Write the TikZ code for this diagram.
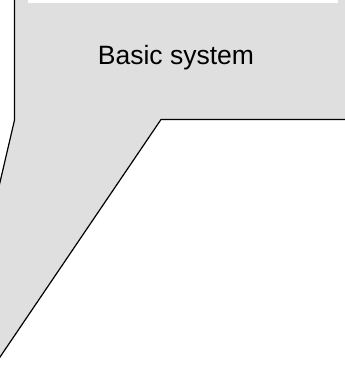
\documentclass[tikz,border=0pt]{standalone}
\usepackage{fontspec}
\setmainfont{Liberation Sans}
\usepackage{xcolor}
\definecolor{cArea}{HTML}{DFDFDF}
\definecolor{cEdge}{HTML}{000000}
\tikzset{
  area/.style={fill=cArea, draw=none},
  edge/.style={draw=cEdge, line width=1.2pt, line join=miter},
  slot/.style={fill=white, draw=none},
  title/.style={font=\fontsize{26.5}{30}\selectfont, anchor=base, inner sep=0pt}
}

\begin{document}
\begin{tikzpicture}[x=1pt, y=-1pt]

\useasboundingbox (0,0) rectangle (345,383);
\clip (0,0) rectangle (345,383);

%% ── Corners ──────────────────────────────────────────────────────
\coordinate (topleft) at (14.4,-10);
\coordinate (bendleft) at (14.4,120.5);
\coordinate (outleft) at (-10,225);
\coordinate (outbottom) at (-10,371.8);
\coordinate (bendright) at (161,119.5);
\coordinate (outright) at (355,119.5);
\coordinate (topright) at (355,-10);

%% ── Grey area ────────────────────────────────────────────────────
\fill[area] (topleft) -- (bendleft) -- (outleft) -- (outbottom)
  -- (bendright) -- (outright) -- (topright) -- cycle;

% white strip at the top
\fill[slot] (27.5,-10) rectangle (338,3);

%% ── Outline ──────────────────────────────────────────────────────
\draw[edge] (topleft) -- (bendleft) -- (outleft);
\draw[edge] (outbottom) -- (bendright) -- (outright);

%% ── Label ────────────────────────────────────────────────────────
\node[title] (basic) at (176,64.5) {Basic system};

\end{tikzpicture}
\end{document}
